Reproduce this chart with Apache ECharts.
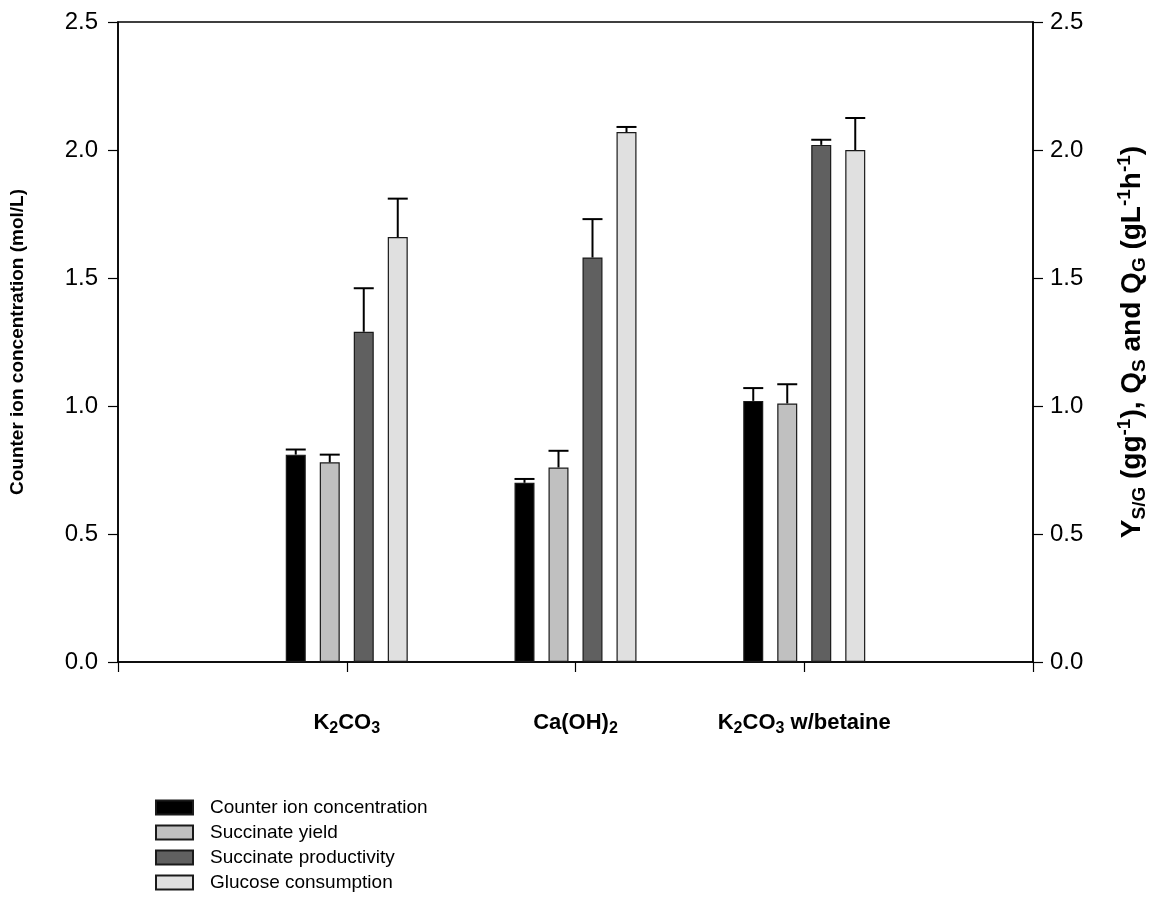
<!DOCTYPE html>
<html>
<head>
<meta charset="utf-8">
<script src="https://cdn.jsdelivr.net/npm/echarts@6/dist/echarts.min.js"></script>
<style>
html, body { margin: 0; padding: 0; background: #fff; }
#chart { width: 1150px; height: 920px; }
</style>
</head>
<body>
<div id="chart"></div>
<script>
// categories (rich text so the subscripts can be drawn)
var categories = ['K{s|2}CO{s|3}', 'Ca(OH){s|2}', 'K{s|2}CO{s|3} w/betaine'];
var seriesNames = ['Counter ion concentration', 'Succinate yield', 'Succinate productivity', 'Glucose consumption'];
var seriesColors = ['#000000', '#c0c0c0', '#606060', '#e0e0e0'];

// mean values, one per category
var counterIon = [0.81, 0.70, 1.02];
var succYield = [0.78, 0.76, 1.01];
var succProd = [1.29, 1.58, 2.02];
var glucose = [1.66, 2.07, 2.00];

// upper error bars
var counterIonErr = [0.02, 0.015, 0.05];
var succYieldErr = [0.03, 0.065, 0.075];
var succProdErr = [0.17, 0.15, 0.02];
var glucoseErr = [0.15, 0.02, 0.125];

var values = [counterIon, succYield, succProd, glucose];
var errors = [counterIonErr, succYieldErr, succProdErr, glucoseErr];

var BAR_W = 20;
var BAR_GAP = 0.7;   // fraction of bar width

function pts(arr) {
	var out = [];
	for (var i = 0; i < arr.length; i++) out.push([i + 1, arr[i]]);
	return out;
}

var series = [];
for (var k = 0; k < values.length; k++) {
	series.push({
		name: seriesNames[k],
		type: 'bar',
		yAxisIndex: k === 0 ? 0 : 1,
		barWidth: BAR_W,
		barGap: (BAR_GAP * 100) + '%',
		itemStyle: { color: seriesColors[k], borderColor: '#1a1a1a', borderWidth: 1.2 },
		data: pts(values[k]),
		z: 2
	});
}

// error bars, drawn on top of each bar through the axis scale
for (var k = 0; k < values.length; k++) {
	(function (idx) {
		var errData = [];
		for (var i = 0; i < values[idx].length; i++) {
			errData.push([i + 1, values[idx][i], values[idx][i] + errors[idx][i]]);
		}
		var offset = (idx - (values.length - 1) / 2) * BAR_W * (1 + BAR_GAP);
		series.push({
			type: 'custom',
			yAxisIndex: idx === 0 ? 0 : 1,
			silent: true,
			z: 3,
			data: errData,
			renderItem: function (params, api) {
				var lo = api.coord([api.value(0), api.value(1)]);
				var hi = api.coord([api.value(0), api.value(2)]);
				var x = lo[0] + offset;
				var half = BAR_W / 2;
				var st = { stroke: '#000', lineWidth: 2 };
				return {
					type: 'group',
					children: [
						{ type: 'line', shape: { x1: x, y1: lo[1], x2: x, y2: hi[1] }, style: st },
						{ type: 'line', shape: { x1: x - half, y1: hi[1], x2: x + half, y2: hi[1] }, style: st }
					]
				};
			}
		});
	})(k);
}

var axisFont = 'Liberation Sans';
function yAxisBase(margin) {
	return {
		type: 'value',
		min: 0,
		max: 2.5,
		interval: 0.5,
		axisLine: { show: true, lineStyle: { color: '#000', width: 1.5 } },
		axisTick: { show: true, inside: false, length: 10, lineStyle: { color: '#000', width: 1.2 } },
		splitLine: { show: false },
		axisLabel: {
			color: '#000', fontFamily: axisFont, fontSize: 24, margin: margin,
			formatter: function (v) { return v.toFixed(1); }
		},
		nameLocation: 'middle',
		nameRotate: 90
	};
}

var myChart = echarts.init(document.getElementById('chart'));
var option = {
	backgroundColor: '#fff',
	animation: false,
	textStyle: { fontFamily: axisFont },
	grid: {
		left: 118, right: 117, top: 22, bottom: 258,
		outerBoundsMode: 'none',
		containLabel: false,
		show: true, borderColor: '#000', borderWidth: 1.5, backgroundColor: 'transparent'
	},
	legend: {
		orient: 'vertical',
		left: 155,
		top: 798,
		padding: 0,
		itemWidth: 37,
		itemHeight: 14,
		itemGap: 6,
		icon: 'rect',
		data: seriesNames,
		textStyle: { color: '#000', fontSize: 19, fontFamily: axisFont, padding: [0, 0, 0, 12] }
	},
	xAxis: {
		type: 'value',
		min: 0,
		max: 4,
		interval: 1,
		axisLine: { show: true, lineStyle: { color: '#000', width: 1.5 } },
		axisTick: { show: true, length: 10, lineStyle: { color: '#000', width: 1.2 } },
		splitLine: { show: false },
		axisLabel: {
			color: '#000', fontFamily: axisFont, fontSize: 22, fontWeight: 'bold',
			margin: 47, lineHeight: 28,
			formatter: function (v) {
				return categories[v - 1] || '';
			},
			rich: {
				s: { fontSize: 16, fontWeight: 'bold', fontFamily: axisFont, color: '#000', lineHeight: 15, verticalAlign: 'bottom' }
			}
		}
	},
	yAxis: [
		echarts.util.merge({
			position: 'left',
			name: 'Counter ion concentration (mol/L)',
			nameGap: 91,
			nameTextStyle: { color: '#000', fontSize: 19, fontWeight: 'bold', fontFamily: axisFont }
		}, yAxisBase(20)),
		echarts.util.merge({
			position: 'right',
			name: '{b|Y}{s|S/G}{b| (gg}{p|-1}{b|), Q}{s|S}{b| and Q}{s|G}{b| (gL}{p|-1}{b|h}{p|-1}{b|)}',
			nameGap: 82,
			nameTextStyle: {
				color: '#000', fontSize: 28, fontWeight: 'bold', fontFamily: axisFont,
				rich: {
					b: { fontSize: 28, fontWeight: 'bold', fontFamily: axisFont, color: '#000', lineHeight: 34 },
					s: { fontSize: 19, fontWeight: 'bold', fontFamily: axisFont, color: '#000', lineHeight: 18, verticalAlign: 'bottom' },
					p: { fontSize: 19, fontWeight: 'bold', fontFamily: axisFont, color: '#000', lineHeight: 18, verticalAlign: 'top' }
				}
			}
		}, yAxisBase(17))
	],
	series: series
};
myChart.setOption(option);
</script>
</body>
</html>
